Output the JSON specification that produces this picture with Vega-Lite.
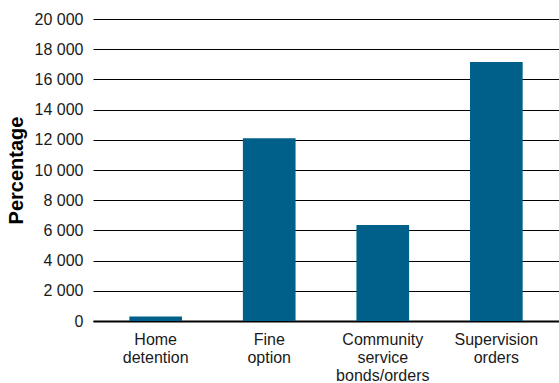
{
  "$schema": "https://vega.github.io/schema/vega-lite/v6.json",
  "autosize": "none",
  "width": 466,
  "height": 302,
  "padding": {"left": 93, "top": 19, "right": 0, "bottom": 62},
  "background": "white",
  "data": {
    "values": [
      {"category": "Home|detention", "value": 290},
      {"category": "Fine|option", "value": 12100},
      {"category": "Community|service|bonds/orders", "value": 6360},
      {"category": "Supervision|orders", "value": 17150}
    ]
  },
  "mark": {"type": "bar", "color": "#00608a"},
  "encoding": {
    "x": {
      "field": "category",
      "type": "nominal",
      "sort": null,
      "scale": {"paddingInner": 0.536, "paddingOuter": 0.32},
      "axis": {
        "title": null,
        "labelAngle": 0,
        "labelExpr": "split(datum.label, '|')",
        "labelFont": "Liberation Sans",
        "labelFontSize": 16,
        "labelLineHeight": 18,
        "labelColor": "#1a1a1a",
        "labelPadding": 10,
        "ticks": false,
        "domainColor": "#000000",
        "domainWidth": 2,
        "grid": false
      }
    },
    "y": {
      "field": "value",
      "type": "quantitative",
      "scale": {"domain": [0, 20000], "nice": false},
      "axis": {
        "title": "Percentage",
        "titleFont": "Liberation Sans",
        "titleFontSize": 20,
        "titleFontWeight": "bold",
        "titleColor": "#000000",
        "titlePadding": 8,
        "values": [0, 2000, 4000, 6000, 8000, 10000, 12000, 14000, 16000, 18000, 20000],
        "labelExpr": "replace(format(datum.value, ','), ',', ' ')",
        "labelFont": "Liberation Sans",
        "labelFontSize": 16,
        "labelColor": "#1a1a1a",
        "labelPadding": 10,
        "ticks": false,
        "domain": false,
        "grid": true,
        "gridColor": "#000000",
        "gridWidth": 1,
        "gridOpacity": 1
      }
    }
  },
  "config": {
    "view": {"stroke": null}
  }
}
